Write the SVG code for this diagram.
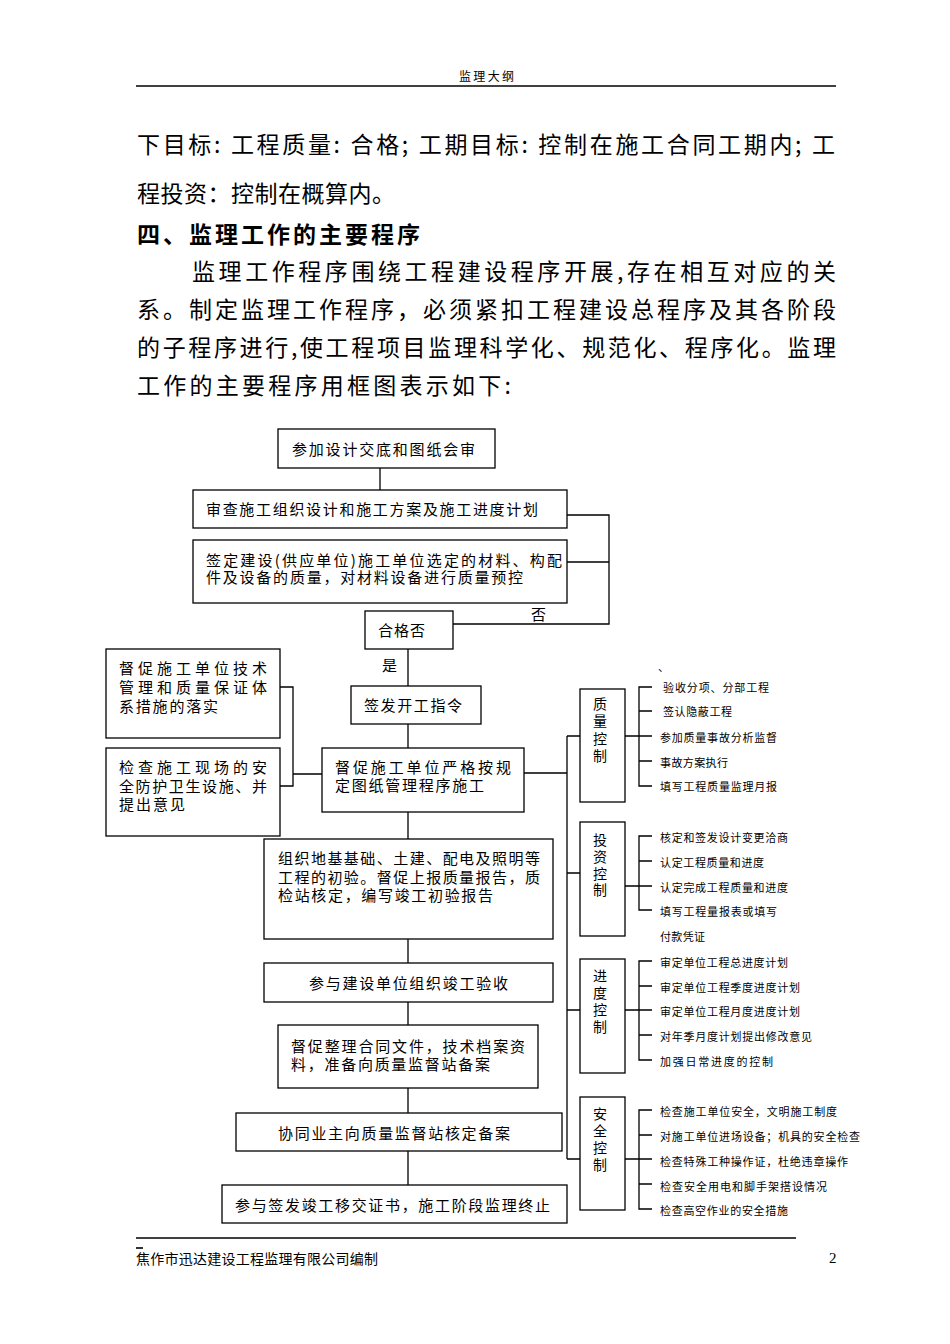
<svg xmlns="http://www.w3.org/2000/svg" width="950" height="1344" viewBox="0 0 950 1344">
<style>
.box{fill:#fff;stroke:#000;stroke-width:1.3}
.ln{fill:none;stroke:#000;stroke-width:1.3}
.rule{fill:none;stroke:#000;stroke-width:1.6}
text{font-family:"Noto Sans CJK SC","Noto Sans CJK JP",sans-serif;fill:#000;dominant-baseline:central}
.t{font-size:15px}
.s{font-size:11px}
.v{font-size:14px;text-anchor:middle}
.p{font-size:23px}
.h{font-size:23px;font-weight:bold}
.hd{font-size:13px}
</style>
<rect width="950" height="1344" fill="#fff"/>
<g id="page-header">
<text class="hd" x="459" y="75" textLength="55" style="font-size:12px">监理大纲</text>
<line class="rule" x1="136" y1="86" x2="836" y2="86"/>
</g>
<g id="body-text">
<text class="p" x="137" y="143" textLength="698">下目标: 工程质量: 合格; 工期目标: 控制在施工合同工期内; 工</text>
<text class="p" x="137" y="192" textLength="258">程投资：控制在概算内。</text>
<text class="h" x="137" y="233" textLength="283">四、监理工作的主要程序</text>
<text class="p" x="192" y="270" textLength="644">监理工作程序围绕工程建设程序开展,存在相互对应的关</text>
<text class="p" x="137" y="308" textLength="699">系。制定监理工作程序，必须紧扣工程建设总程序及其各阶段</text>
<text class="p" x="137" y="346" textLength="699">的子程序进行,使工程项目监理科学化、规范化、程序化。监理</text>
<text class="p" x="137" y="384" textLength="374">工作的主要程序用框图表示如下:</text>
</g>
<g id="connectors">
<path class="ln" d="M380 468V490"/>
<path class="ln" d="M567 515H609V624H453M567 562H609"/>
<path class="ln" d="M408 649V686M408 724V748M408 812V839M408 939V963M408 1002V1025M408 1088V1113M408 1151V1185"/>
<path class="ln" d="M280 687H293V786H280M293 774H322"/>
<path class="ln" d="M524 773H567M567 736V1159M567 736H580M567 873H580M567 1010H580M567 1159H580"/>
<path class="ln" d="M625 736H639M625 886H639M625 1010H639M625 1159H639"/>
<path class="ln" d="M652 687H639V786H652M639 711H652M639 736H652M639 761H652"/>
<path class="ln" d="M652 836H639V910H652M639 861H652M639 886H652"/>
<path class="ln" d="M652 961H639V1060H652M639 986H652M639 1010H652M639 1035H652"/>
<path class="ln" d="M652 1110H639V1209H652M639 1135H652M639 1159H652M639 1184H652"/>
<text class="t" x="531" y="613">否</text>
<text class="t" x="382" y="664">是</text>
</g>
<g id="n1"><rect class="box" x="278" y="429" width="217" height="39"/><text class="t" x="292" y="448" textLength="183">参加设计交底和图纸会审</text></g>
<g id="n2"><rect class="box" x="193" y="490" width="374" height="38"/><text class="t" x="206" y="508" textLength="332">审查施工组织设计和施工方案及施工进度计划</text></g>
<g id="n3"><rect class="box" x="193" y="540" width="374" height="63"/><text class="t" x="206" y="559" textLength="356">签定建设(供应单位)施工单位选定的材料、构配</text><text class="t" x="206" y="576" textLength="317">件及设备的质量，对材料设备进行质量预控</text></g>
<g id="n4"><rect class="box" x="365" y="611" width="88" height="38"/><text class="t" x="378" y="629" textLength="47">合格否</text></g>
<g id="n5"><rect class="box" x="351" y="686" width="130" height="38"/><text class="t" x="364" y="704" textLength="98">签发开工指令</text></g>
<g id="n6"><rect class="box" x="322" y="748" width="202" height="64"/><text class="t" x="335" y="766" textLength="176">督促施工单位严格按规</text><text class="t" x="335" y="784" textLength="149">定图纸管理程序施工</text></g>
<g id="nA"><rect class="box" x="106" y="649" width="174" height="89"/><text class="t" x="119" y="667" textLength="148">督促施工单位技术</text><text class="t" x="119" y="686" textLength="148">管理和质量保证体</text><text class="t" x="119" y="705" textLength="99">系措施的落实</text></g>
<g id="nB"><rect class="box" x="106" y="748" width="174" height="88"/><text class="t" x="119" y="766" textLength="148">检查施工现场的安</text><text class="t" x="119" y="785" textLength="148">全防护卫生设施、并</text><text class="t" x="119" y="803" textLength="66">提出意见</text></g>
<g id="n7"><rect class="box" x="264" y="839" width="289" height="100"/><text class="t" x="278" y="857" textLength="262">组织地基基础、土建、配电及照明等</text><text class="t" x="278" y="876" textLength="262">工程的初验。督促上报质量报告，质</text><text class="t" x="278" y="894" textLength="215">检站核定，编写竣工初验报告</text></g>
<g id="n8"><rect class="box" x="264" y="963" width="289" height="39"/><text class="t" x="309" y="982" textLength="199">参与建设单位组织竣工验收</text></g>
<g id="n9"><rect class="box" x="278" y="1025" width="260" height="63"/><text class="t" x="291" y="1045" textLength="234">督促整理合同文件，技术档案资</text><text class="t" x="291" y="1063" textLength="199">料，准备向质量监督站备案</text></g>
<g id="n10"><rect class="box" x="236" y="1113" width="326" height="38"/><text class="t" x="278" y="1132" textLength="232">协同业主向质量监督站核定备案</text></g>
<g id="n11"><rect class="box" x="222" y="1185" width="345" height="38"/><text class="t" x="235" y="1204" textLength="315">参与签发竣工移交证书，施工阶段监理终止</text></g>
<g id="c1"><rect class="box" x="580" y="689" width="45" height="113"/><text class="v" x="600" y="703">质</text><text class="v" x="600" y="720">量</text><text class="v" x="600" y="738">控</text><text class="v" x="600" y="755">制</text></g>
<g id="c1-items">
<text class="s" x="658" y="666">、</text>
<text class="s" x="663" y="687" textLength="106">验收分项、分部工程</text>
<text class="s" x="663" y="711" textLength="69">签认隐蔽工程</text>
<text class="s" x="660" y="737" textLength="117">参加质量事故分析监督</text>
<text class="s" x="660" y="762" textLength="68">事故方案执行</text>
<text class="s" x="660" y="786" textLength="117">填写工程质量监理月报</text>
</g>
<g id="c2"><rect class="box" x="580" y="822" width="45" height="114"/><text class="v" x="600" y="839">投</text><text class="v" x="600" y="856">资</text><text class="v" x="600" y="873">控</text><text class="v" x="600" y="889">制</text></g>
<g id="c2-items">
<text class="s" x="660" y="837" textLength="128">核定和签发设计变更洽商</text>
<text class="s" x="660" y="862" textLength="104">认定工程质量和进度</text>
<text class="s" x="660" y="887" textLength="128">认定完成工程质量和进度</text>
<text class="s" x="660" y="911" textLength="117">填写工程量报表或填写</text>
<text class="s" x="660" y="936" textLength="45">付款凭证</text>
</g>
<g id="c3"><rect class="box" x="580" y="959" width="45" height="114"/><text class="v" x="600" y="975">进</text><text class="v" x="600" y="992">度</text><text class="v" x="600" y="1009">控</text><text class="v" x="600" y="1026">制</text></g>
<g id="c3-items">
<text class="s" x="660" y="962" textLength="128">审定单位工程总进度计划</text>
<text class="s" x="660" y="987" textLength="140">审定单位工程季度进度计划</text>
<text class="s" x="660" y="1011" textLength="140">审定单位工程月度进度计划</text>
<text class="s" x="660" y="1036" textLength="152">对年季月度计划提出修改意见</text>
<text class="s" x="660" y="1061" textLength="113">加强日常进度的控制</text>
</g>
<g id="c4"><rect class="box" x="580" y="1097" width="45" height="113"/><text class="v" x="600" y="1113">安</text><text class="v" x="600" y="1130">全</text><text class="v" x="600" y="1147">控</text><text class="v" x="600" y="1164">制</text></g>
<g id="c4-items">
<text class="s" x="660" y="1111" textLength="177">检查施工单位安全，文明施工制度</text>
<text class="s" x="660" y="1136" textLength="200">对施工单位进场设备；机具的安全检查</text>
<text class="s" x="660" y="1161" textLength="188">检查特殊工种操作证，杜绝违章操作</text>
<text class="s" x="660" y="1186" textLength="167">检查安全用电和脚手架搭设情况</text>
<text class="s" x="660" y="1210" textLength="128">检查高空作业的安全措施</text>
</g>
<g id="page-footer">
<line class="rule" x1="136" y1="1238" x2="796" y2="1238"/>
<line class="rule" x1="136" y1="1248" x2="143" y2="1248"/>
<text class="hd" style="font-size:14px" x="136" y="1258" textLength="242">焦作市迅达建设工程监理有限公司编制</text>
<text x="829" y="1258" style="font-family:'Liberation Serif',serif;font-size:15px">2</text>
</g>
</svg>
